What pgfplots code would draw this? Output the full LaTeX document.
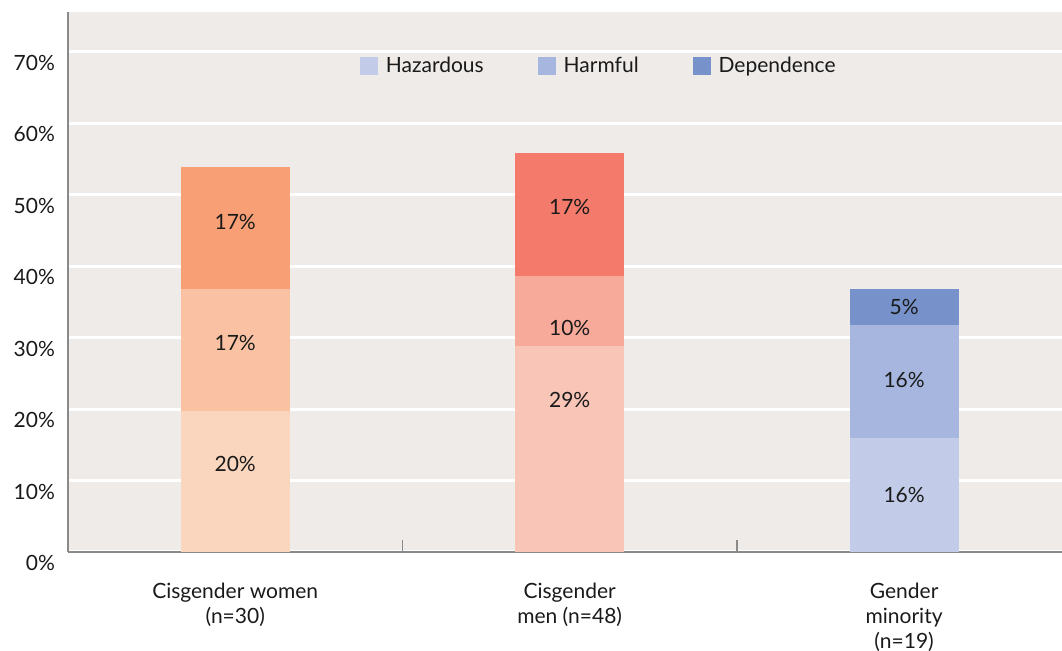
\documentclass[border=0pt]{standalone}
\usepackage{fontspec}
\setmainfont{Lato}
\usepackage{pgfplots}
\pgfplotsset{compat=1.18}

\definecolor{bg}{HTML}{EFEBE8}
\definecolor{axgray}{HTML}{8A8A8A}
\definecolor{txt}{HTML}{1A1A1A}
% women (orange), men (red), gender minority (blue)
\definecolor{wA}{HTML}{FBD6BF}
\definecolor{wB}{HTML}{FAC2A3}
\definecolor{wC}{HTML}{F89F75}
\definecolor{mA}{HTML}{F9C5B7}
\definecolor{mB}{HTML}{F7AA9A}
\definecolor{mC}{HTML}{F47B6B}
\definecolor{gA}{HTML}{C2CCE8}
\definecolor{gB}{HTML}{A7B6DF}
\definecolor{gC}{HTML}{7792CA}

\newcommand{\lbl}{\fontsize{10.5}{12.5}\selectfont}
\pgfplotsset{
  sq/.style={legend image code/.code={\fill[#1] (0pt,-4.5pt) rectangle (9pt,4.5pt);}},
  % labels sit at the segment middle, shifted a little as in the original
  seg/.style={nodes near coords, point meta=explicit symbolic,
    every node near coord/.append style={anchor=center, yshift=#1, font=\lbl, text=txt}},
}

\begin{document}
\begin{tikzpicture}
\path[use as bounding box] (-34pt,-49.5pt) rectangle (497pt,276pt);
\begin{axis}[
    at={(0,0)}, anchor=south west,
    scale only axis, width=497pt, height=270pt,
    ybar stacked, bar width=54.5pt,
    xmin=-0.5, xmax=2.472, ymin=0, ymax=75.6,
    axis background/.style={fill=bg},
    axis x line*=bottom, axis y line*=left,
    axis line style={-, draw=axgray, line width=0.75pt},
    ytick={0,10,...,70},
    ymajorgrids, grid style={white, line width=1.5pt},
    major y tick style={draw=none},
    yticklabel={\pgfmathprintnumber{\tick}\%},
    /pgf/number format/assume math mode=true,
    yticklabel style={yshift=-5.5pt, xshift=-3pt},
    xtick={0,1,2},
    xticklabels={{Cisgender women\\(n=30)},{Cisgender\\men (n=48)},{Gender\\minority\\(n=19)}},
    xticklabel style={align=center, yshift=-12pt},
    major x tick style={draw=none},
    minor xtick={0.5,1.5},
    minor tick length=6pt, tick align=inside,
    minor x tick style={draw=axgray, line width=0.75pt},
    every tick label/.append style={font=\lbl, text=txt},
    legend style={at={(0.535,0.9)}, anchor=center, draw=none, fill=none,
        legend columns=3, font=\lbl, text=txt,
        /tikz/every odd column/.append style={column sep=2pt},
        /tikz/every even column/.append style={column sep=25pt}},
]
% bottom level
\addplot[fill=wA, draw=none, forget plot, seg=8.75pt] coordinates {(0,19.7)[20\%] (1,0)[] (2,0)[]};
\addplot[fill=mA, draw=none, forget plot, seg=24.6pt] coordinates {(0,0)[] (1,28.8)[29\%] (2,0)[]};
\addplot[fill=gA, draw=none, sq, seg=0pt] coordinates {(0,0)[] (1,0)[] (2,16.0)[16\%]};
% middle level
\addplot[fill=wB, draw=none, forget plot, seg=3.75pt] coordinates {(0,17.1)[17\%] (1,0)[] (2,0)[]};
\addplot[fill=mB, draw=none, forget plot, seg=-8.4pt] coordinates {(0,0)[] (1,9.9)[10\%] (2,0)[]};
\addplot[fill=gB, draw=none, sq, seg=0.7pt] coordinates {(0,0)[] (1,0)[] (2,15.8)[16\%]};
% top level
\addplot[fill=wC, draw=none, forget plot, seg=3pt] coordinates {(0,17.1)[17\%] (1,0)[] (2,0)[]};
\addplot[fill=mC, draw=none, forget plot, seg=3.75pt] coordinates {(0,0)[] (1,17.1)[17\%] (2,0)[]};
\addplot[fill=gC, draw=none, sq, seg=0pt] coordinates {(0,0)[] (1,0)[] (2,5.0)[5\%]};
\legend{Hazardous, Harmful, Dependence}
\end{axis}
\end{tikzpicture}
\end{document}
